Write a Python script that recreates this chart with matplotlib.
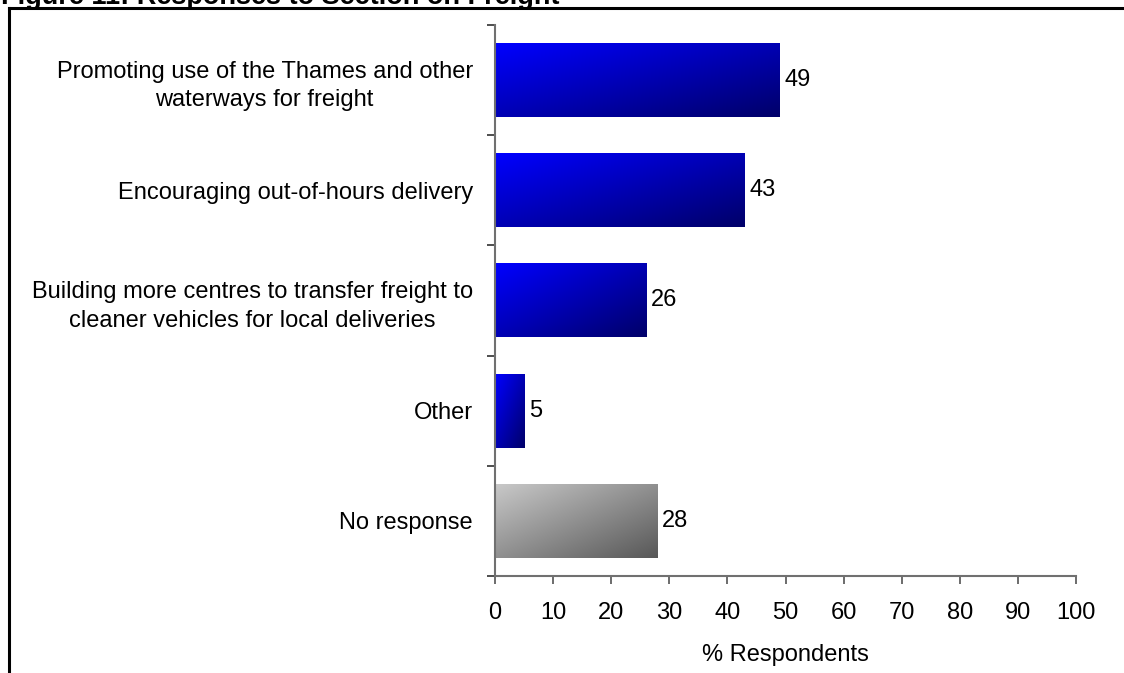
import numpy as np
import matplotlib
matplotlib.use("Agg")
from matplotlib import pyplot as plt
from matplotlib.lines import Line2D

plt.rcParams["font.family"] = ["Liberation Sans", "DejaVu Sans"]

# survey results, top to bottom
categories = ["Promoting use of the Thames and other\nwaterways for freight",
              "Encouraging out-of-hours delivery",
              "Building more centres to transfer freight to\ncleaner vehicles for local deliveries",
              "Other",
              "No response"]
values = [49, 43, 26, 5, 28]
is_response = [True, True, True, True, False]

x_ticks = list(range(0, 101, 10))

W, H = 1124, 673
FS = 17
fig = plt.figure(figsize=(W / 100, H / 100), dpi=100)
ax = fig.add_axes([495 / W, 1 - 576 / H, (1076 - 495) / W, (576 - 25) / H])

# gradient end points: light top-left -> dark bottom-right
blue_a, blue_b = np.array([0, 0, 255]) / 255, np.array([0, 0, 105]) / 255
grey_a, grey_b = np.array([200, 200, 200]) / 255, np.array([88, 88, 88]) / 255

bar_h = 0.67
n = 64
u = np.linspace(0, 1, n)
uu, vv = np.meshgrid(u, u)
t = ((uu + vv) / 2)[..., None]

for i, (v, resp) in enumerate(zip(values, is_response)):
    a, b = (blue_a, blue_b) if resp else (grey_a, grey_b)
    img = a * (1 - t) + b * t
    ax.imshow(img, extent=(0, v, i + bar_h / 2, i - bar_h / 2),
              aspect="auto", interpolation="bilinear", zorder=2)
    ax.text(v + 0.8, i, str(v), va="center", ha="left", fontsize=FS)

ax.set_xlim(0, 100)
ax.set_ylim(len(categories) - 0.5, -0.5)

# boundary ticks between categories, labels centred on bars
ax.set_yticks(np.arange(-0.5, len(categories), 1.0))
ax.set_yticklabels([])
ax.set_yticks(range(len(categories)), minor=True)
ax.set_yticklabels(categories, minor=True, fontsize=FS,
                   multialignment="center", linespacing=1.4)
ax.tick_params(axis="y", which="minor", length=0, pad=16)
ax.tick_params(axis="y", which="major", length=6, width=1.3, color="#404040")

ax.set_xticks(x_ticks)
ax.set_xticklabels([str(x) for x in x_ticks], fontsize=FS)
ax.tick_params(axis="x", length=6, width=1.3, color="#606060", pad=13)
ax.set_xlabel("% Respondents", fontsize=FS, labelpad=14)

for side in ["top", "right"]:
    ax.spines[side].set_visible(False)
for side in ["left", "bottom"]:
    ax.spines[side].set_color("#707070")
    ax.spines[side].set_linewidth(1.5)

# frame around the figure and its heading
fig.add_artist(Line2D([8.5 / W, 1.0], [1 - 7.5 / H, 1 - 7.5 / H],
                      color="black", lw=2.2, transform=fig.transFigure))
fig.add_artist(Line2D([8.5 / W, 8.5 / W], [0, 1 - 7.5 / H],
                      color="black", lw=2.2, transform=fig.transFigure))
fig.text(1 / W, 1 - 4.5 / H, "Figure 11: Responses to Section on Freight",
         fontsize=19.5, fontweight="bold", ha="left", va="baseline")

fig.savefig("out.png", dpi=100)
